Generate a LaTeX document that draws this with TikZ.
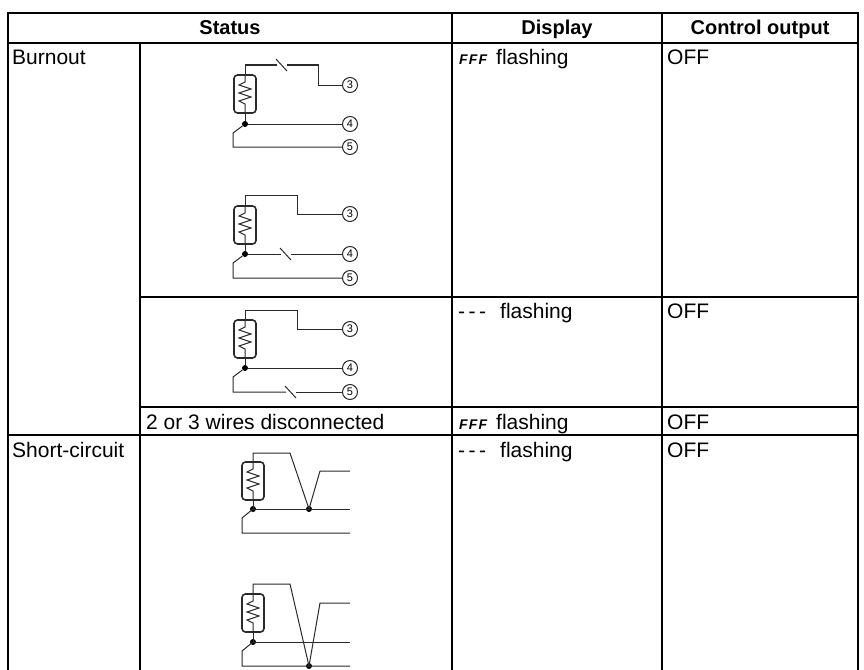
\documentclass[tikz,border=0pt]{standalone}
\usepackage{fontspec}
\setmainfont{Liberation Sans}
\newcommand{\segfont}{\fontsize{14}{14}\selectfont\itshape\bfseries}
\newcommand{\dashes}{\makebox[42pt][l]{-\kern3.5pt-\kern3.5pt-}}
\newcommand{\fff}{\makebox[38pt][l]{\kern1pt{\segfont F\kern1.2pt F\kern1.2pt F}}}
\definecolor{wirec}{HTML}{2A2A2A}
\tikzset{
  grid/.style={line width=2.4pt, line cap=rect},
  wire/.style={line width=1pt, draw=wirec},
  term/.style={circle, draw=wirec, line width=1pt, minimum size=15pt, inner sep=0pt, font=\fontsize{11}{11}\selectfont},
  jdot/.style={circle, fill=black, minimum size=6pt, inner sep=0pt},
  rbox/.style={draw=wirec, line width=1.6pt, rounded corners=3.5pt, minimum width=22pt, minimum height=38pt, inner sep=0pt},
  txt/.style={anchor=base west, inner sep=0pt, font=\fontsize{21}{21}\selectfont},
  hdr/.style={anchor=base, inner sep=0pt, font=\fontsize{20}{20}\selectfont\bfseries},
  pics/rtd/.style={code={
    \node[rbox] (-box) at (0,0) {};
    \draw[wire] (-box.north) -- (0,-12) -- (-6,-9) -- (6,-5) -- (-6,-1) -- (6,3) -- (-6,7) -- (0,10) -- (0,12) -- (-box.south);
  }},
}
\newcommand{\brk}[2]{% open contact symbol at x=#1, y=#2
  \draw[wire] (#1-1,#2-6) -- (#1+10,#2+6);}
\begin{document}
\begin{tikzpicture}[x=1pt,y=-1pt]
\useasboundingbox (0,0) rectangle (864,669);
% ---------- table ----------
\draw[grid] (8,669) -- (8,13) -- (858,13) -- (858,669);
\draw[grid] (8,43) -- (858,43);
\draw[grid] (452,13) -- (452,669);
\draw[grid] (662,13) -- (662,669);
\draw[grid] (140,43) -- (140,669);
\draw[grid] (140,297) -- (858,297);
\draw[grid] (140,407) -- (858,407);
\draw[grid] (8,435) -- (858,435);
% headers
\node[hdr] (hstatus) at (230,35) {Status};
\node[hdr] (hdisplay) at (557,35) {Display};
\node[hdr] (hcontrol) at (760,35) {Control output};
% row texts
\node[txt] (lburn) at (12,65) {Burnout};
\node[txt] (lshort) at (12,457) {Short-circuit};
\node[txt] (l23) at (146,429) {2 or 3 wires disconnected};
\node[txt] (d1) at (458,65) {\fff flashing};
\node[txt] (d2) at (458,318) {\dashes flashing};
\node[txt] (d3) at (458,429) {\fff flashing};
\node[txt] (d4) at (458,457) {\dashes flashing};
\node[txt] (o1) at (667,65) {OFF};
\node[txt] (o2) at (667,318) {OFF};
\node[txt] (o3) at (667,429) {OFF};
\node[txt] (o4) at (667,457) {OFF};
% ---------- Burnout circuit 1 ----------
\pic (r1) at (245,94) {rtd};
\node[jdot] (j1) at (245,124) {};
\node[term] (t13) at (350,85) {3};
\node[term] (t14) at (350,124) {4};
\node[term] (t15) at (350,147) {5};
\coordinate (a1) at (245,65);
\draw[wire] (r1-box.north) -- (a1) -- (277,65);
\brk{277}{65}
\draw[wire] (287,65) -- (318,65) -- (318,85) -- (t13);
\draw[wire] (r1-box.south) -- (j1) -- (t14);
\draw[wire] (j1) -- (233,133) -- (233,147) -- (t15);
% ---------- Burnout circuit 2 ----------
\pic (r2) at (245,225) {rtd};
\node[jdot] (j2) at (245,254) {};
\node[term] (t23) at (350,214) {3};
\node[term] (t24) at (350,254) {4};
\node[term] (t25) at (350,278) {5};
\draw[wire] (r2-box.north) -- (245,195) -- (297,195) -- (297,214) -- (t23);
\draw[wire] (r2-box.south) -- (j2) -- (281,254);
\brk{281}{254}
\draw[wire] (291,254) -- (t24);
\draw[wire] (j2) -- (233,263) -- (233,278) -- (t25);
% ---------- Burnout circuit 3 ----------
\pic (r3) at (245,339) {rtd};
\node[jdot] (j3) at (245,368) {};
\node[term] (t33) at (350,329) {3};
\node[term] (t34) at (350,368) {4};
\node[term] (t35) at (350,392) {5};
\draw[wire] (r3-box.north) -- (245,310) -- (297,310) -- (297,329) -- (t33);
\draw[wire] (r3-box.south) -- (j3) -- (t34);
\draw[wire] (j3) -- (233,377) -- (233,392) -- (286,392);
\brk{286}{392}
\draw[wire] (296,392) -- (t35);
% ---------- Short-circuit 1 ----------
\pic (s1) at (253,481) {rtd};
\node[jdot] (k1a) at (253,509) {};
\node[jdot] (k1b) at (309,509) {};
\coordinate (e1a) at (350,471);
\coordinate (e1b) at (350,509);
\coordinate (e1c) at (350,533);
\draw[wire] (s1-box.north) -- (253,453) -- (290,453) -- (k1b.center);
\draw[wire] (k1b.center) -- (320,471) -- (e1a);
\draw[wire] (s1-box.south) -- (k1a.center) -- (e1b);
\draw[wire] (k1a.center) -- (242,518) -- (242,533) -- (e1c);
% ---------- Short-circuit 2 ----------
\pic (s2) at (253,613) {rtd};
\node[jdot] (k2a) at (253,642) {};
\node[jdot] (k2b) at (309,666) {};
\coordinate (e2a) at (350,603);
\coordinate (e2b) at (350,642);
\coordinate (e2c) at (350,666);
\draw[wire] (s2-box.north) -- (253,584) -- (290,584) -- (k2b.center);
\draw[wire] (k2b.center) -- (320,603) -- (e2a);
\draw[wire] (s2-box.south) -- (k2a.center) -- (e2b);
\draw[wire] (k2a.center) -- (242,651) -- (242,666) -- (e2c);
\end{tikzpicture}
\end{document}
